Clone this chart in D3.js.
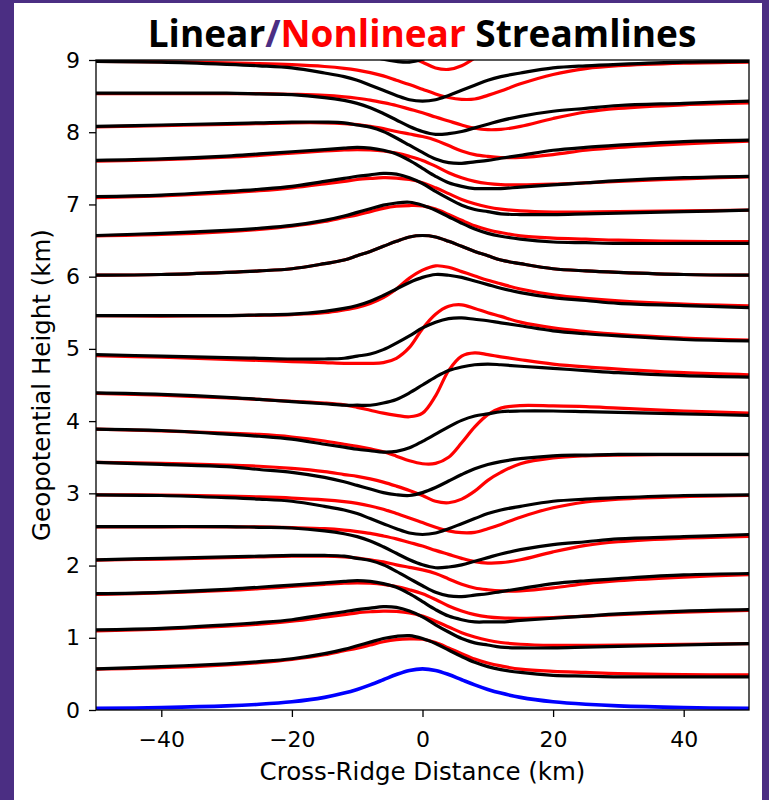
<!DOCTYPE html>
<html>
<head>
<meta charset="utf-8">
<script src="https://cdn.jsdelivr.net/npm/d3@7"></script>
<style>
  html, body { margin: 0; padding: 0; background: #4b2e83; }
  svg { display: block; }
</style>
</head>
<body>
<svg id="chart" width="769" height="800"></svg>
<script>
// cross-ridge distance of the sampled points (km)
const distance = [-50, -40, -30, -25, -20, -15, -12, -10, -8, -6, -4, -2, 0, 2, 4, 6, 8, 10, 12, 15, 20, 25, 30, 40, 50];

// upstream height of each streamline (km)
const levels = [0.5, 1.0, 1.5, 2.0, 2.5, 3.0, 3.5, 4.0, 4.5, 5.0, 5.5, 6.0, 6.5, 7.0, 7.5, 8.0, 8.5, 9.0, 9.5];

const terrain = [0.022, 0.034, 0.057, 0.079, 0.114, 0.175, 0.234, 0.285, 0.348, 0.419, 0.491, 0.548, 0.570, 0.548, 0.491, 0.419, 0.348, 0.285, 0.234, 0.175, 0.114, 0.079, 0.057, 0.034, 0.022];

const linear = [
    [0.57, 0.60, 0.64, 0.67, 0.71, 0.78, 0.84, 0.89, 0.94, 0.99, 1.02, 1.03, 0.99, 0.92, 0.83, 0.74, 0.66, 0.60, 0.56, 0.52, 0.48, 0.47, 0.46, 0.46, 0.46],
    [1.11, 1.13, 1.18, 1.21, 1.25, 1.32, 1.36, 1.39, 1.41, 1.43, 1.42, 1.37, 1.29, 1.18, 1.08, 0.99, 0.93, 0.90, 0.87, 0.86, 0.86, 0.87, 0.88, 0.90, 0.92],
    [1.61, 1.63, 1.67, 1.70, 1.73, 1.76, 1.78, 1.79, 1.78, 1.75, 1.70, 1.61, 1.50, 1.39, 1.30, 1.25, 1.22, 1.22, 1.22, 1.24, 1.27, 1.30, 1.33, 1.37, 1.39],
    [2.08, 2.10, 2.12, 2.13, 2.14, 2.14, 2.13, 2.10, 2.07, 2.01, 1.92, 1.82, 1.72, 1.63, 1.58, 1.57, 1.59, 1.61, 1.64, 1.68, 1.75, 1.79, 1.82, 1.87, 1.89],
    [2.54, 2.54, 2.54, 2.53, 2.52, 2.48, 2.44, 2.40, 2.34, 2.26, 2.17, 2.08, 2.01, 1.97, 1.98, 2.01, 2.06, 2.11, 2.16, 2.22, 2.29, 2.33, 2.37, 2.40, 2.43],
    [2.98, 2.97, 2.94, 2.92, 2.89, 2.82, 2.77, 2.72, 2.65, 2.58, 2.51, 2.45, 2.43, 2.45, 2.51, 2.58, 2.65, 2.72, 2.77, 2.82, 2.89, 2.92, 2.94, 2.97, 2.98],
    [3.43, 3.40, 3.37, 3.33, 3.29, 3.22, 3.16, 3.11, 3.06, 3.01, 2.98, 2.97, 3.01, 3.08, 3.17, 3.26, 3.34, 3.40, 3.44, 3.48, 3.52, 3.53, 3.54, 3.54, 3.54],
    [3.89, 3.87, 3.82, 3.79, 3.75, 3.68, 3.64, 3.61, 3.59, 3.57, 3.58, 3.63, 3.72, 3.82, 3.92, 4.01, 4.07, 4.10, 4.13, 4.14, 4.14, 4.13, 4.12, 4.10, 4.08],
    [4.39, 4.37, 4.33, 4.30, 4.27, 4.24, 4.22, 4.22, 4.22, 4.25, 4.30, 4.39, 4.50, 4.61, 4.70, 4.75, 4.78, 4.79, 4.78, 4.76, 4.73, 4.70, 4.67, 4.63, 4.61],
    [4.92, 4.90, 4.88, 4.87, 4.86, 4.86, 4.87, 4.90, 4.93, 4.99, 5.08, 5.18, 5.29, 5.37, 5.42, 5.43, 5.41, 5.39, 5.36, 5.32, 5.25, 5.21, 5.18, 5.13, 5.11],
    [5.46, 5.46, 5.46, 5.47, 5.48, 5.52, 5.56, 5.60, 5.66, 5.74, 5.83, 5.92, 5.99, 6.03, 6.02, 5.99, 5.94, 5.89, 5.84, 5.78, 5.71, 5.67, 5.63, 5.60, 5.57],
    [6.02, 6.03, 6.06, 6.08, 6.11, 6.18, 6.23, 6.29, 6.35, 6.42, 6.49, 6.55, 6.57, 6.55, 6.49, 6.42, 6.35, 6.29, 6.23, 6.18, 6.11, 6.08, 6.06, 6.03, 6.02],
    [6.57, 6.60, 6.64, 6.67, 6.71, 6.78, 6.84, 6.89, 6.94, 6.99, 7.02, 7.03, 6.99, 6.92, 6.83, 6.74, 6.66, 6.60, 6.56, 6.52, 6.48, 6.47, 6.46, 6.46, 6.46],
    [7.11, 7.13, 7.18, 7.21, 7.25, 7.32, 7.36, 7.39, 7.41, 7.43, 7.42, 7.37, 7.29, 7.18, 7.08, 6.99, 6.93, 6.90, 6.87, 6.86, 6.86, 6.87, 6.88, 6.90, 6.92],
    [7.61, 7.63, 7.67, 7.70, 7.73, 7.76, 7.78, 7.79, 7.78, 7.75, 7.70, 7.61, 7.50, 7.39, 7.30, 7.25, 7.22, 7.22, 7.22, 7.24, 7.27, 7.30, 7.33, 7.37, 7.39],
    [8.08, 8.10, 8.12, 8.13, 8.14, 8.14, 8.13, 8.10, 8.07, 8.01, 7.92, 7.82, 7.72, 7.63, 7.58, 7.57, 7.59, 7.61, 7.64, 7.68, 7.75, 7.79, 7.82, 7.87, 7.89],
    [8.54, 8.54, 8.54, 8.53, 8.52, 8.48, 8.44, 8.40, 8.34, 8.26, 8.17, 8.08, 8.01, 7.97, 7.98, 8.01, 8.06, 8.11, 8.16, 8.22, 8.29, 8.33, 8.37, 8.40, 8.43],
    [8.98, 8.97, 8.94, 8.92, 8.89, 8.82, 8.77, 8.72, 8.65, 8.58, 8.51, 8.45, 8.43, 8.45, 8.51, 8.58, 8.65, 8.72, 8.77, 8.82, 8.89, 8.92, 8.94, 8.97, 8.98],
    [9.43, 9.40, 9.37, 9.33, 9.29, 9.22, 9.16, 9.11, 9.06, 9.01, 8.98, 8.97, 9.01, 9.08, 9.17, 9.26, 9.34, 9.40, 9.44, 9.48, 9.52, 9.53, 9.54, 9.54, 9.54]
];

const nonlinear = [
    [0.565, 0.585, 0.625, 0.655, 0.70, 0.765, 0.82, 0.855, 0.90, 0.945, 0.975, 0.985, 0.98, 0.935, 0.86, 0.78, 0.705, 0.65, 0.61, 0.565, 0.535, 0.52, 0.505, 0.49, 0.485],
    [1.095, 1.12, 1.16, 1.19, 1.23, 1.285, 1.32, 1.345, 1.36, 1.37, 1.365, 1.345, 1.30, 1.23, 1.15, 1.07, 1.01, 0.965, 0.935, 0.91, 0.895, 0.895, 0.90, 0.91, 0.92],
    [1.60, 1.62, 1.655, 1.68, 1.71, 1.74, 1.755, 1.76, 1.755, 1.74, 1.71, 1.665, 1.61, 1.53, 1.44, 1.37, 1.32, 1.29, 1.275, 1.27, 1.28, 1.30, 1.32, 1.355, 1.38],
    [2.075, 2.09, 2.11, 2.12, 2.13, 2.13, 2.12, 2.105, 2.08, 2.05, 2.01, 1.975, 1.94, 1.89, 1.815, 1.74, 1.69, 1.665, 1.65, 1.65, 1.69, 1.75, 1.79, 1.84, 1.875],
    [2.535, 2.535, 2.535, 2.535, 2.525, 2.51, 2.49, 2.47, 2.445, 2.41, 2.37, 2.32, 2.27, 2.21, 2.155, 2.10, 2.055, 2.035, 2.04, 2.08, 2.19, 2.28, 2.33, 2.38, 2.405],
    [2.98, 2.975, 2.96, 2.95, 2.935, 2.91, 2.885, 2.86, 2.825, 2.78, 2.72, 2.66, 2.595, 2.53, 2.48, 2.455, 2.46, 2.51, 2.57, 2.67, 2.80, 2.88, 2.92, 2.955, 2.97],
    [3.43, 3.415, 3.39, 3.375, 3.345, 3.30, 3.26, 3.235, 3.20, 3.155, 3.10, 3.04, 2.97, 2.89, 2.87, 2.92, 3.03, 3.18, 3.29, 3.41, 3.49, 3.52, 3.53, 3.535, 3.535],
    [3.89, 3.865, 3.835, 3.815, 3.78, 3.725, 3.68, 3.65, 3.615, 3.575, 3.515, 3.45, 3.41, 3.415, 3.50, 3.70, 3.92, 4.09, 4.18, 4.215, 4.21, 4.20, 4.18, 4.14, 4.11],
    [4.385, 4.36, 4.32, 4.30, 4.275, 4.25, 4.225, 4.19, 4.15, 4.11, 4.08, 4.06, 4.11, 4.35, 4.70, 4.90, 4.945, 4.92, 4.89, 4.85, 4.79, 4.75, 4.72, 4.67, 4.64],
    [4.905, 4.885, 4.855, 4.84, 4.825, 4.81, 4.80, 4.80, 4.80, 4.81, 4.87, 5.02, 5.28, 5.48, 5.59, 5.61, 5.56, 5.50, 5.45, 5.37, 5.29, 5.24, 5.20, 5.15, 5.12],
    [5.46, 5.455, 5.46, 5.465, 5.475, 5.50, 5.54, 5.575, 5.63, 5.71, 5.83, 5.98, 6.09, 6.15, 6.13, 6.07, 6.01, 5.95, 5.90, 5.83, 5.75, 5.70, 5.665, 5.62, 5.595],
    [6.02, 6.03, 6.06, 6.08, 6.11, 6.18, 6.23, 6.29, 6.35, 6.42, 6.49, 6.55, 6.57, 6.55, 6.49, 6.42, 6.35, 6.29, 6.23, 6.18, 6.11, 6.08, 6.06, 6.03, 6.02],
    [6.565, 6.585, 6.625, 6.655, 6.70, 6.765, 6.82, 6.855, 6.90, 6.945, 6.975, 6.985, 6.98, 6.935, 6.86, 6.78, 6.705, 6.65, 6.61, 6.565, 6.535, 6.52, 6.505, 6.49, 6.485],
    [7.095, 7.12, 7.16, 7.19, 7.23, 7.285, 7.32, 7.345, 7.36, 7.37, 7.365, 7.345, 7.30, 7.23, 7.15, 7.07, 7.01, 6.965, 6.935, 6.91, 6.895, 6.895, 6.90, 6.91, 6.92],
    [7.60, 7.62, 7.655, 7.68, 7.71, 7.74, 7.755, 7.76, 7.755, 7.74, 7.71, 7.665, 7.61, 7.53, 7.44, 7.37, 7.32, 7.29, 7.275, 7.27, 7.28, 7.30, 7.32, 7.355, 7.38],
    [8.075, 8.09, 8.11, 8.12, 8.13, 8.13, 8.12, 8.105, 8.08, 8.05, 8.01, 7.975, 7.94, 7.89, 7.815, 7.74, 7.69, 7.665, 7.65, 7.65, 7.69, 7.75, 7.79, 7.84, 7.875],
    [8.535, 8.535, 8.535, 8.535, 8.525, 8.51, 8.49, 8.47, 8.445, 8.41, 8.37, 8.32, 8.27, 8.21, 8.155, 8.10, 8.055, 8.035, 8.04, 8.08, 8.19, 8.28, 8.33, 8.38, 8.405],
    [8.98, 8.975, 8.96, 8.95, 8.935, 8.91, 8.885, 8.86, 8.825, 8.78, 8.72, 8.66, 8.595, 8.53, 8.48, 8.455, 8.46, 8.51, 8.57, 8.67, 8.80, 8.88, 8.92, 8.955, 8.97],
    [9.43, 9.415, 9.39, 9.375, 9.345, 9.30, 9.26, 9.235, 9.20, 9.155, 9.10, 9.04, 8.97, 8.89, 8.87, 8.92, 9.03, 9.18, 9.29, 9.41, 9.49, 9.52, 9.53, 9.535, 9.535]
];

const xTicks = [-40, -20, 0, 20, 40];
const yTicks = [0, 1, 2, 3, 4, 5, 6, 7, 8, 9];

class StreamlineChart
{
    constructor(margin)
    {
        this.margin = margin;
    }

    line(x, y)
    {
        return d3.line()
            .x((d, i) => x(distance[i]))
            .y(d => y(d))
            .curve(d3.curveCatmullRom.alpha(0.5));
    }

    draw(selector, width, height)
    {
        const m = this.margin;
        const svg = d3.select(selector);

        // white sheet on the purple background
        svg.append("rect")
            .attr("x", 14).attr("y", 3)
            .attr("width", 748).attr("height", height - 3)
            .attr("fill", "#fff");

        const x = d3.scaleLinear().domain([-50, 50]).range([m.left, width - m.right]);
        const y = d3.scaleLinear().domain([0, 9]).range([height - m.bottom, m.top]);

        svg.append("defs").append("clipPath")
            .attr("id", "plot-clip")
            .append("rect")
            .attr("x", m.left).attr("y", m.top)
            .attr("width", width - m.left - m.right)
            .attr("height", height - m.top - m.bottom);

        const line = this.line(x, y);
        const plot = svg.append("g").attr("clip-path", "url(#plot-clip)")
            .attr("fill", "none")
            .attr("stroke-width", 3.2)
            .attr("stroke-linejoin", "round");

        plot.append("g")
            .attr("stroke", "#ff0000")
            .selectAll("path")
            .data(nonlinear)
            .join("path")
            .attr("d", line);

        plot.append("g")
            .attr("stroke", "#000")
            .selectAll("path")
            .data(linear)
            .join("path")
            .attr("d", line);

        plot.append("path")
            .datum(terrain)
            .attr("stroke", "#0000ff")
            .attr("stroke-width", 3.6)
            .attr("d", line);

        const minus = d => d < 0 ? "\u2212" + Math.abs(d) : String(d);

        const xAxis = svg.append("g")
            .attr("transform", `translate(0,${height - m.bottom})`)
            .call(d3.axisBottom(x).tickValues(xTicks).tickFormat(minus).tickSize(7).tickPadding(14).tickSizeOuter(0));

        const yAxis = svg.append("g")
            .attr("transform", `translate(${m.left},0)`)
            .call(d3.axisLeft(y).tickValues(yTicks).tickSize(7).tickPadding(9).tickSizeOuter(0));

        [xAxis, yAxis].forEach(g => {
            g.select(".domain").remove();
            g.selectAll(".tick line").attr("stroke", "#000").attr("stroke-width", 1.3);
            g.selectAll(".tick text")
                .attr("fill", "#000")
                .style("font-family", "'DejaVu Sans', sans-serif")
                .style("font-size", "22px");
        });

        // frame
        svg.append("rect")
            .attr("x", m.left).attr("y", m.top)
            .attr("width", width - m.left - m.right)
            .attr("height", height - m.top - m.bottom)
            .attr("fill", "none")
            .attr("stroke", "#000")
            .attr("stroke-width", 1.3);

        svg.append("text")
            .attr("x", (m.left + width - m.right) / 2)
            .attr("y", 780)
            .attr("text-anchor", "middle")
            .style("font-family", "'DejaVu Sans', sans-serif")
            .style("font-size", "24.5px")
            .text("Cross-Ridge Distance (km)");

        svg.append("text")
            .attr("transform", `translate(50,${(m.top + height - m.bottom) / 2}) rotate(-90)`)
            .attr("text-anchor", "middle")
            .style("font-family", "'DejaVu Sans', sans-serif")
            .style("font-size", "24.5px")
            .text("Geopotential Height (km)");

        const title = svg.append("text")
            .attr("x", 422)
            .attr("y", 47)
            .attr("text-anchor", "middle")
            .style("font-family", "'Open Sans', sans-serif")
            .style("font-weight", "bold")
            .style("font-size", "37px");
        title.append("tspan").attr("fill", "#000").text("Linear");
        title.append("tspan").attr("fill", "#4b2e83").text("/");
        title.append("tspan").attr("fill", "#ff0000").text("Nonlinear");
        title.append("tspan").attr("fill", "#000").text(" Streamlines");

        return svg.node();
    }
}

new StreamlineChart({top: 60, right: 20, bottom: 90, left: 96}).draw("#chart", 769, 800);
</script>
</body>
</html>
